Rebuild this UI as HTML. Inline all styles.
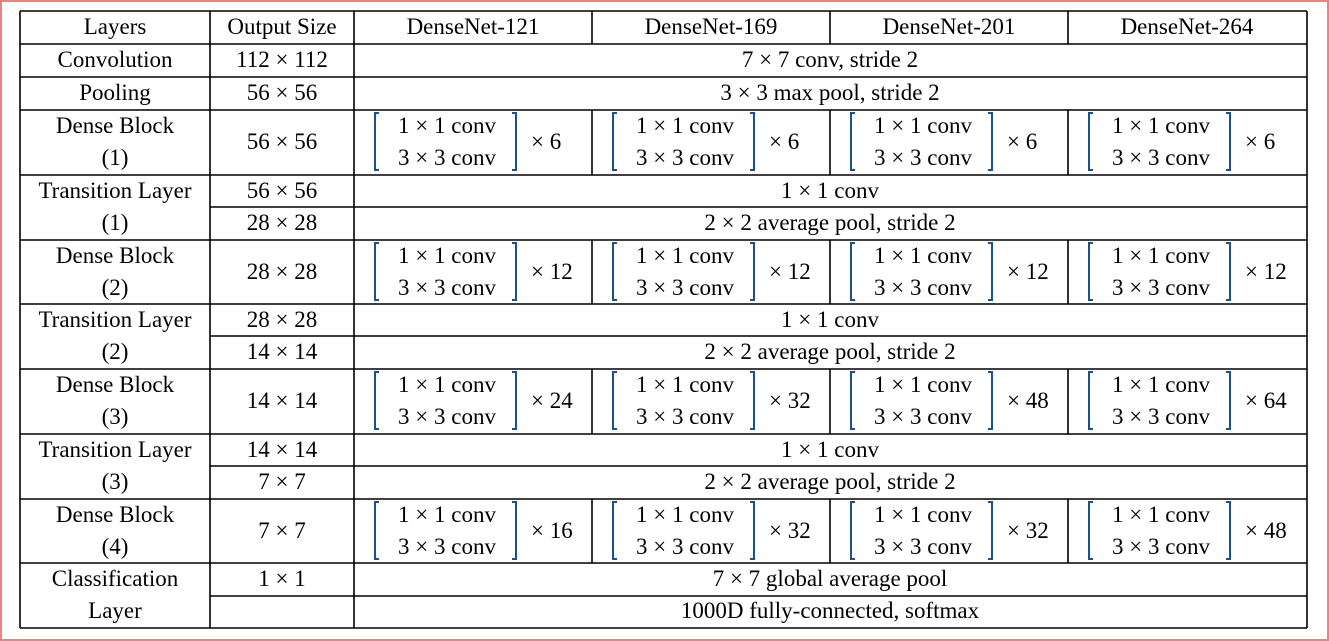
<!DOCTYPE html>
<html><head><meta charset="utf-8"><style>
html,body{margin:0;padding:0;background:#fff;}
svg{display:block;}
svg text{font-family:"Liberation Serif","Times New Roman",Times,"DejaVu Serif",serif;font-size:23px;fill:#000;}
</style></head><body>
<svg width="1329" height="641" viewBox="0 0 1329 641" xmlns="http://www.w3.org/2000/svg" font-family="Liberation Serif, Times New Roman, DejaVu Serif, serif">
<rect x="1" y="1" width="1327" height="639" fill="#fff" stroke="#f08080" stroke-width="2"/>
<g stroke="#000" stroke-width="1.6">
<line x1="20" y1="11" x2="1307" y2="11"/>
<line x1="20" y1="44" x2="1307" y2="44"/>
<line x1="20" y1="77" x2="1307" y2="77"/>
<line x1="20" y1="110" x2="1307" y2="110"/>
<line x1="20" y1="175" x2="1307" y2="175"/>
<line x1="210" y1="207" x2="1307" y2="207"/>
<line x1="20" y1="240" x2="1307" y2="240"/>
<line x1="20" y1="304" x2="1307" y2="304"/>
<line x1="210" y1="336" x2="1307" y2="336"/>
<line x1="20" y1="369" x2="1307" y2="369"/>
<line x1="20" y1="434" x2="1307" y2="434"/>
<line x1="210" y1="466" x2="1307" y2="466"/>
<line x1="20" y1="499" x2="1307" y2="499"/>
<line x1="20" y1="563" x2="1307" y2="563"/>
<line x1="210" y1="596" x2="1307" y2="596"/>
<line x1="20" y1="628" x2="1307" y2="628"/>
<line x1="20" y1="11" x2="20" y2="628"/>
<line x1="210" y1="11" x2="210" y2="628"/>
<line x1="354" y1="11" x2="354" y2="628"/>
<line x1="1307" y1="11" x2="1307" y2="628"/>
<line x1="592" y1="11" x2="592" y2="44"/><line x1="830" y1="11" x2="830" y2="44"/><line x1="1068" y1="11" x2="1068" y2="44"/>
<line x1="592" y1="110" x2="592" y2="175"/><line x1="830" y1="110" x2="830" y2="175"/><line x1="1068" y1="110" x2="1068" y2="175"/>
<line x1="592" y1="240" x2="592" y2="304"/><line x1="830" y1="240" x2="830" y2="304"/><line x1="1068" y1="240" x2="1068" y2="304"/>
<line x1="592" y1="369" x2="592" y2="434"/><line x1="830" y1="369" x2="830" y2="434"/><line x1="1068" y1="369" x2="1068" y2="434"/>
<line x1="592" y1="499" x2="592" y2="563"/><line x1="830" y1="499" x2="830" y2="563"/><line x1="1068" y1="499" x2="1068" y2="563"/>
</g>
<g fill="none" stroke="#1a5190" stroke-width="2">
<path d="M379 113h-4v57h4M512 113h4v57h-4M617 113h-4v57h4M750 113h4v57h-4M855 113h-4v57h4M988 113h4v57h-4M1093 113h-4v57h4M1226 113h4v57h-4"/>
<path d="M379 243h-4v57h4M512 243h4v57h-4M617 243h-4v57h4M750 243h4v57h-4M855 243h-4v57h4M988 243h4v57h-4M1093 243h-4v57h4M1226 243h4v57h-4"/>
<path d="M379 372h-4v57h4M512 372h4v57h-4M617 372h-4v57h4M750 372h4v57h-4M855 372h-4v57h4M988 372h4v57h-4M1093 372h-4v57h4M1226 372h4v57h-4"/>
<path d="M379 502h-4v57h4M512 502h4v57h-4M617 502h-4v57h4M750 502h4v57h-4M855 502h-4v57h4M988 502h4v57h-4M1093 502h-4v57h4M1226 502h4v57h-4"/>
</g>
<g text-anchor="middle">
<text x="115" y="34">Layers</text><text x="282" y="34">Output Size</text>
<text x="473" y="34">DenseNet-121</text><text x="711" y="34">DenseNet-169</text><text x="949" y="34">DenseNet-201</text><text x="1187" y="34">DenseNet-264</text>
<text x="115" y="67">Convolution</text><text x="282" y="67">112 × 112</text><text x="830" y="67">7 × 7 conv, stride 2</text>
<text x="115" y="100">Pooling</text><text x="282" y="100">56 × 56</text><text x="830" y="100">3 × 3 max pool, stride 2</text>
<text x="115" y="133">Dense Block</text><text x="115" y="165">(1)</text><text x="282" y="149">56 × 56</text>
<text x="115" y="198">Transition Layer</text><text x="115" y="230">(1)</text>
<text x="282" y="198">56 × 56</text><text x="830" y="198">1 × 1 conv</text>
<text x="282" y="230">28 × 28</text><text x="830" y="230">2 × 2 average pool, stride 2</text>
<text x="115" y="263">Dense Block</text><text x="115" y="295">(2)</text><text x="282" y="279">28 × 28</text>
<text x="115" y="327">Transition Layer</text><text x="115" y="359">(2)</text>
<text x="282" y="327">28 × 28</text><text x="830" y="327">1 × 1 conv</text>
<text x="282" y="359">14 × 14</text><text x="830" y="359">2 × 2 average pool, stride 2</text>
<text x="115" y="392">Dense Block</text><text x="115" y="424">(3)</text><text x="282" y="408">14 × 14</text>
<text x="115" y="457">Transition Layer</text><text x="115" y="489">(3)</text>
<text x="282" y="457">14 × 14</text><text x="830" y="457">1 × 1 conv</text>
<text x="282" y="489">7 × 7</text><text x="830" y="489">2 × 2 average pool, stride 2</text>
<text x="115" y="522">Dense Block</text><text x="115" y="554">(4)</text><text x="282" y="538">7 × 7</text>
<text x="115" y="586">Classification</text><text x="115" y="618">Layer</text>
<text x="282" y="586">1 × 1</text><text x="830" y="586">7 × 7 global average pool</text>
<text x="830" y="618">1000D fully-connected, softmax</text>
<text x="447" y="133">1 × 1 conv</text><text x="447" y="165">3 × 3 conv</text>
<text x="685" y="133">1 × 1 conv</text><text x="685" y="165">3 × 3 conv</text>
<text x="923" y="133">1 × 1 conv</text><text x="923" y="165">3 × 3 conv</text>
<text x="1161" y="133">1 × 1 conv</text><text x="1161" y="165">3 × 3 conv</text>
<text x="447" y="263">1 × 1 conv</text><text x="447" y="295">3 × 3 conv</text>
<text x="685" y="263">1 × 1 conv</text><text x="685" y="295">3 × 3 conv</text>
<text x="923" y="263">1 × 1 conv</text><text x="923" y="295">3 × 3 conv</text>
<text x="1161" y="263">1 × 1 conv</text><text x="1161" y="295">3 × 3 conv</text>
<text x="447" y="392">1 × 1 conv</text><text x="447" y="424">3 × 3 conv</text>
<text x="685" y="392">1 × 1 conv</text><text x="685" y="424">3 × 3 conv</text>
<text x="923" y="392">1 × 1 conv</text><text x="923" y="424">3 × 3 conv</text>
<text x="1161" y="392">1 × 1 conv</text><text x="1161" y="424">3 × 3 conv</text>
<text x="447" y="522">1 × 1 conv</text><text x="447" y="554">3 × 3 conv</text>
<text x="685" y="522">1 × 1 conv</text><text x="685" y="554">3 × 3 conv</text>
<text x="923" y="522">1 × 1 conv</text><text x="923" y="554">3 × 3 conv</text>
<text x="1161" y="522">1 × 1 conv</text><text x="1161" y="554">3 × 3 conv</text>
</g>
<g text-anchor="start">
<text x="531" y="149">× 6</text><text x="769" y="149">× 6</text><text x="1007" y="149">× 6</text><text x="1245" y="149">× 6</text>
<text x="531" y="279">× 12</text><text x="769" y="279">× 12</text><text x="1007" y="279">× 12</text><text x="1245" y="279">× 12</text>
<text x="531" y="408">× 24</text><text x="769" y="408">× 32</text><text x="1007" y="408">× 48</text><text x="1245" y="408">× 64</text>
<text x="531" y="538">× 16</text><text x="769" y="538">× 32</text><text x="1007" y="538">× 32</text><text x="1245" y="538">× 48</text>
</g>
</svg>
</body></html>
